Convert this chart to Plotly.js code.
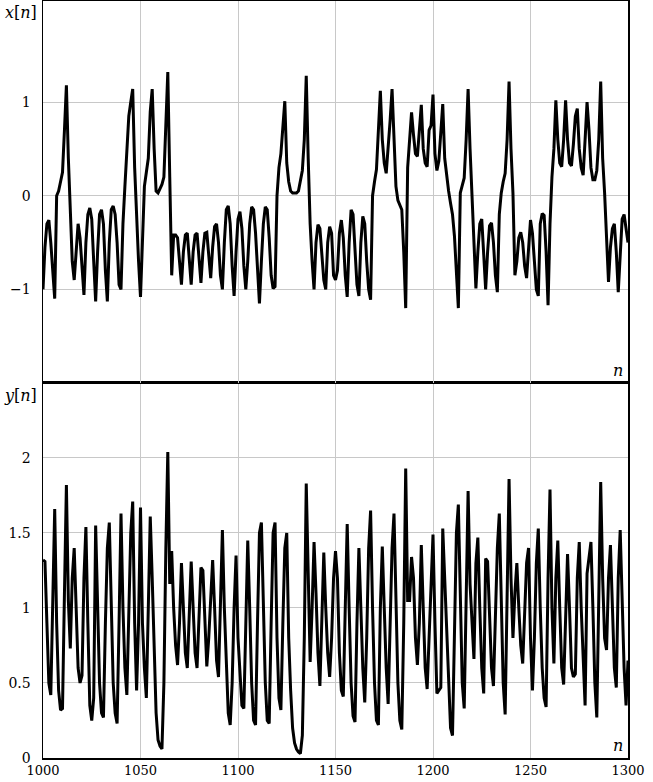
<!DOCTYPE html>
<html>
<head>
<meta charset="utf-8">
<script src="https://cdn.plot.ly/plotly-3.0.1.min.js"></script>
<style>
  html, body { margin: 0; padding: 0; background: #fff; }
  #chart { width: 653px; height: 782px; }
</style>
</head>
<body>
<div id="chart"></div>
<script>
// sample index n = 1000 ... 1300
var n = [];
for (var k = 1000; k <= 1300; k++) n.push(k);

// x[n]
var xn = [
  -1.0, -0.55, -0.3, -0.26, -0.5, -0.85, -1.1, 0.0, 0.05, 0.15,
  0.25, 0.7, 1.18, 0.4, -0.2, -0.7, -0.9, -0.55, -0.3, -0.45,
  -0.8, -1.06, -0.5, -0.2, -0.13, -0.25, -0.7, -1.13, -0.6, -0.2,
  -0.15, -0.3, -0.8, -1.13, -0.5, -0.15, -0.11, -0.2, -0.5, -0.95,
  -1.0, -0.3, 0.1, 0.5, 0.85, 1.0, 1.14, 0.3, -0.3, -0.7,
  -1.08, -0.5, 0.1, 0.25, 0.4, 0.9, 1.14, 0.5, 0.05, 0.03,
  0.07, 0.12, 0.2, 0.8, 1.32, 0.2, -0.85, -0.42, -0.42, -0.45,
  -0.7, -0.95, -0.6, -0.42, -0.4, -0.7, -0.95, -0.6, -0.42, -0.4,
  -0.65, -0.93, -0.6, -0.4, -0.39, -0.6, -0.88, -0.55, -0.33, -0.3,
  -0.5, -0.85, -1.0, -0.5, -0.15, -0.11, -0.3, -0.75, -1.07, -0.6,
  -0.25, -0.17, -0.35, -0.75, -1.0, -0.7, -0.3, -0.12, -0.15, -0.4,
  -0.85, -1.15, -0.7, -0.3, -0.12, -0.15, -0.45, -0.85, -0.99, -0.97,
  0.0, 0.3, 0.45, 0.7, 1.01, 0.35, 0.15, 0.05, 0.03, 0.03,
  0.03, 0.05, 0.15, 0.27, 0.6, 1.28, 0.4, -0.3, -0.7, -1.0,
  -0.5, -0.31, -0.35, -0.6, -0.9, -1.0, -0.5, -0.33, -0.4, -0.85,
  -0.9, -0.8, -0.4, -0.26, -0.45, -0.85, -1.08, -0.5, -0.15, -0.2,
  -0.6, -0.95, -1.07, -0.5, -0.22, -0.3, -0.7, -1.0, -1.11, 0.0,
  0.15, 0.28, 0.7, 1.12, 0.6, 0.35, 0.24, 0.5, 0.8, 1.14,
  0.5, 0.1, -0.05, -0.1, -0.15, -0.6, -1.2, 0.3, 0.6, 0.89,
  0.65, 0.45, 0.42, 0.7, 0.97, 0.5, 0.35, 0.31, 0.7, 0.75,
  1.08, 0.45, 0.27, 0.37, 0.7, 0.98, 0.4, 0.2, 0.05, -0.08,
  -0.2, -0.43, -0.9, -1.2, 0.03, 0.12, 0.19, 0.6, 1.14, 0.5,
  0.03, -0.5, -0.99, -0.6, -0.3, -0.25, -0.6, -1.0, -0.6, -0.32,
  -0.29, -0.5, -0.85, -1.03, -0.2, 0.03, 0.15, 0.24, 0.6, 1.22,
  0.5, 0.03, -0.85, -0.7, -0.45, -0.39, -0.5, -0.75, -0.88, -0.5,
  -0.26, -0.4, -0.75, -1.0, -1.07, -0.3, -0.19, -0.21, -0.6, -1.17,
  -0.3, 0.2, 0.5, 1.02, 0.6, 0.35, 0.31, 0.6, 1.02, 0.6,
  0.35, 0.32, 0.55, 0.85, 0.93, 0.5, 0.3, 0.22, 0.6, 1.0,
  0.7, 0.3, 0.17, 0.17, 0.27, 0.6, 1.22, 0.4, 0.03, -0.5,
  -0.92, -0.55, -0.35, -0.3, -0.6, -1.03, -0.6, -0.25, -0.2, -0.35,
  -0.5
];

// y[n]
var yn = [
  1.32, 1.31, 0.9, 0.5, 0.42, 1.0, 1.66, 0.9, 0.45, 0.32,
  0.33, 1.1, 1.82, 1.05, 0.73, 1.2, 1.4, 1.0, 0.6, 0.5,
  0.55, 1.2, 1.54, 0.9, 0.35, 0.25, 0.4, 1.55, 1.0, 0.5,
  0.3, 0.27, 0.9, 1.4, 1.57, 1.0, 0.5, 0.3, 0.23, 0.9,
  1.63, 1.0, 0.6, 0.42, 0.9, 1.5, 1.71, 0.9, 0.45, 0.9,
  1.67, 0.9, 0.6, 0.4, 1.0, 1.61, 1.2, 0.8, 0.3, 0.12,
  0.08, 0.06, 0.5, 1.4, 2.04, 1.16, 1.38, 1.0, 0.75, 0.62,
  0.9, 1.3, 1.0, 0.7, 0.6, 0.9, 1.31, 1.0, 0.7, 0.6,
  0.9, 1.27, 1.25, 0.9, 0.61, 0.8, 1.1, 1.32, 1.0, 0.65,
  0.54, 1.0, 1.52, 1.0, 0.6, 0.3, 0.22, 0.5, 1.0, 1.35,
  0.8, 0.6, 0.35, 0.33, 1.0, 1.45, 1.0, 0.5, 0.25, 0.22,
  0.9, 1.5, 1.57, 1.0, 0.5, 0.25, 0.23, 0.9, 1.5, 1.57,
  0.8, 0.4, 0.32, 0.9, 1.4, 1.5, 0.8, 0.45, 0.2, 0.1,
  0.06, 0.04, 0.03, 0.15, 0.8, 1.83, 1.1, 0.64, 1.0, 1.44,
  1.1, 0.7, 0.48, 0.9, 1.37, 1.0, 0.7, 0.54, 0.8, 1.2,
  1.38, 1.2, 0.7, 0.45, 0.41, 1.0, 1.56, 1.0, 0.5, 0.28,
  0.24, 0.9, 1.4, 1.0, 0.6, 0.37, 0.8, 1.4, 1.65, 1.0,
  0.5, 0.25, 0.22, 1.0, 1.41, 1.0, 0.6, 0.36, 0.8, 1.4,
  1.63, 1.0, 0.5, 0.25, 0.19, 0.9, 1.93, 1.05, 1.05, 1.34,
  1.2, 0.8, 0.62, 0.9, 1.42, 1.0, 0.6, 0.46, 0.8, 1.2,
  1.49, 0.9, 0.43, 0.45, 0.47, 1.53, 1.2, 0.9, 0.5, 0.2,
  0.15, 0.8, 1.5, 1.69, 1.0, 0.5, 0.33, 1.0, 1.78, 1.16,
  0.9, 0.66, 1.3, 1.47, 1.0, 0.6, 0.43, 1.33, 1.31, 0.9,
  0.6, 0.48, 0.9, 1.4, 1.63, 1.0, 0.5, 0.29, 1.0, 1.86,
  1.2, 0.8, 1.1, 1.3, 1.0, 0.75, 0.63, 1.0, 1.3, 1.4,
  0.8, 0.45, 0.8, 1.3, 1.53, 1.0, 0.6, 0.4, 0.34, 1.2,
  1.79, 1.0, 0.63, 1.2, 1.45, 1.0, 0.6, 0.49, 1.0, 1.36,
  1.0, 0.6, 0.54, 0.56, 1.2, 1.44, 1.0, 0.6, 0.35, 1.23,
  1.35, 1.44, 1.0, 0.5, 0.27, 1.0, 1.84, 1.2, 0.8, 0.72,
  1.2, 1.42, 1.0, 0.6, 0.47, 1.2, 1.52, 1.0, 0.6, 0.35,
  0.65
];

var xTicks = [1000, 1050, 1100, 1150, 1200, 1250, 1300];
var topTicks = [-1, 0, 1];
var botTicks = [0, 0.5, 1, 1.5, 2];

var serif = "DejaVu Serif";
var split = 0.4954;

var traces = [
  {x: n, y: xn, xaxis: "x2", yaxis: "y2", mode: "lines", type: "scatter",
   line: {color: "#000", width: 3}, hoverinfo: "skip"},
  {x: n, y: yn, xaxis: "x", yaxis: "y", mode: "lines", type: "scatter",
   line: {color: "#000", width: 3}, hoverinfo: "skip"}
];

var axisCommon = {
  showline: true, mirror: true, linecolor: "#000", linewidth: 1.5,
  showgrid: true, gridcolor: "#c8c8c8", gridwidth: 1,
  zeroline: false, ticks: "", tickfont: {family: serif, size: 14, color: "#000"}
};

var layout = {
  width: 653, height: 782,
  margin: {l: 43, r: 25, t: 1, b: 24},
  paper_bgcolor: "#fff", plot_bgcolor: "#fff",
  showlegend: false,
  font: {family: serif},
  xaxis: Object.assign({}, axisCommon, {
    domain: [0, 1], anchor: "y", range: [1000, 1300],
    tickvals: xTicks, ticklabelstandoff: 0,
    tickfont: {family: serif, size: 13, color: "#000"}
  }),
  yaxis: Object.assign({}, axisCommon, {
    domain: [0, split], anchor: "x", range: [0, 2.5],
    tickvals: botTicks, ticklabelstandoff: 8
  }),
  xaxis2: Object.assign({}, axisCommon, {
    domain: [0, 1], anchor: "y2", range: [1000, 1300], matches: "x",
    tickvals: xTicks, showticklabels: false
  }),
  yaxis2: Object.assign({}, axisCommon, {
    domain: [split, 1], anchor: "x2", range: [-2.0, 2.08],
    tickvals: topTicks, ticklabelstandoff: 8
  }),
  annotations: [
    {text: "<i>x</i>[<i>n</i>]", xref: "paper", yref: "paper", x: 0, y: 1,
     xanchor: "right", yanchor: "top", xshift: -4, yshift: 0, showarrow: false,
     font: {family: serif, size: 16, color: "#000"}},
    {text: "<i>y</i>[<i>n</i>]", xref: "paper", yref: "paper", x: 0, y: split,
     xanchor: "right", yanchor: "top", xshift: -4, yshift: -1, showarrow: false,
     font: {family: serif, size: 16, color: "#000"}},
    {text: "<i>n</i>", xref: "paper", yref: "paper", x: 1, y: split,
     xanchor: "right", yanchor: "bottom", xshift: -3, yshift: 1, showarrow: false,
     font: {family: serif, size: 16, color: "#000"}},
    {text: "<i>n</i>", xref: "paper", yref: "paper", x: 1, y: 0,
     xanchor: "right", yanchor: "bottom", xshift: -3, yshift: 1, showarrow: false,
     font: {family: serif, size: 16, color: "#000"}}
  ]
};

Plotly.newPlot("chart", traces, layout, {staticPlot: true, displayModeBar: false});
</script>
</body>
</html>
